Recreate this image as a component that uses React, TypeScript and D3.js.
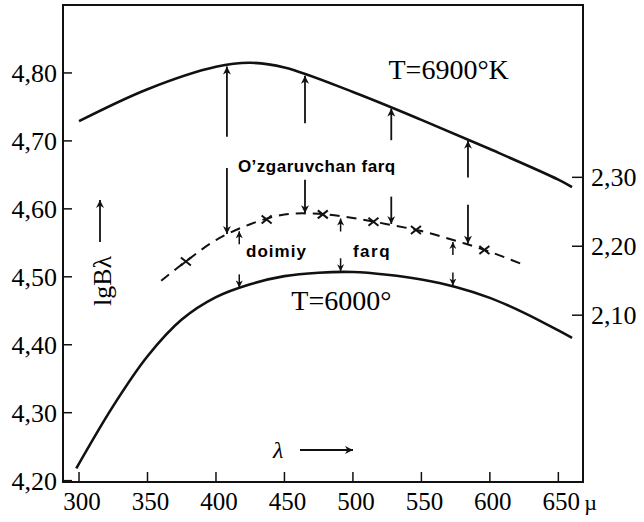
import React, { useEffect, useRef } from "react";
import * as d3 from "d3";

// values: wavelength in µ, lg B on the left axis
const hotLambda = [300, 350, 400, 425, 450, 500, 550, 600, 650, 660];
const hotLogB = [4.729, 4.776, 4.809, 4.815, 4.808, 4.772, 4.731, 4.688, 4.643, 4.632];

const coolLambda = [298, 325, 350, 375, 400, 425, 450, 475, 500, 525, 550, 575, 600, 625, 650, 660];
const coolLogB = [4.218, 4.31, 4.383, 4.437, 4.47, 4.489, 4.501, 4.506, 4.507, 4.503, 4.496, 4.485, 4.469, 4.447, 4.421, 4.41];

// dashed curve, measured against the right-hand axis
const ratioLambda = [360, 380, 400, 425, 450, 475, 500, 525, 550, 575, 600, 626];
const ratioValue = [2.15, 2.181, 2.209, 2.232, 2.246, 2.247, 2.241, 2.232, 2.222, 2.208, 2.192, 2.172];
const crossLambda = [378, 437, 478, 515, 546, 596];

// "O'zgaruvchan farq" arrows (tails in lg B units), "doimiy farq" arrows
const variableLambda = [408, 465, 528, 584];
const variableUpTail = [4.706, 4.726, 4.701, 4.646];
const variableDownTail = [4.66, 4.643, 4.618, 4.606];
const constantLambda = [417, 491, 573];

const xTicks = [300, 350, 400, 450, 500, 550, 600, 650];
const yTicks = [4.2, 4.3, 4.4, 4.5, 4.6, 4.7, 4.8];
const rightTicks = [2.1, 2.2, 2.3];

const fmt = (v: number) => v.toFixed(2).replace(".", ",");

const App = () => {
  const svgRef = useRef<SVGSVGElement>(null);

  useEffect(() => {
    if (!svgRef.current) return;
    const svg = d3.select(svgRef.current);
    svg.selectAll("*").remove();

    const left = 63;
    const right = 583;
    const top = 5;
    const bottom = 482;
    const serif = "'Liberation Serif', 'Times New Roman', serif";
    const sans = "'Liberation Sans', Arial, sans-serif";

    const x = d3.scaleLinear().domain([288.3, 668]).range([left, right]);
    const y = d3.scaleLinear().domain([4.198, 4.9]).range([bottom, top]);
    const yR = d3.scaleLinear().domain([1.858, 2.55]).range([bottom, top]);

    const hotAt = d3.scaleLinear().domain(hotLambda).range(hotLogB);
    const coolAt = d3.scaleLinear().domain(coolLambda).range(coolLogB);
    const ratioAt = d3.scaleLinear().domain(ratioLambda).range(ratioValue);

    const defs = svg.append("defs");
    const marker = (id: string, w: number, h: number) =>
      defs
        .append("marker")
        .attr("id", id)
        .attr("viewBox", "0 0 10 10")
        .attr("refX", 10)
        .attr("refY", 5)
        .attr("markerUnits", "userSpaceOnUse")
        .attr("markerWidth", w)
        .attr("markerHeight", h)
        .attr("orient", "auto")
        .append("path")
        .attr("d", "M0,0 L10,5 L0,10 L3,5 Z")
        .attr("fill", "#111");
    marker("head", 12, 8);
    marker("small", 8, 7);

    svg.append("rect").attr("width", 644).attr("height", 522).attr("fill", "#fff");

    // frame
    svg
      .append("rect")
      .attr("x", left)
      .attr("y", top)
      .attr("width", right - left)
      .attr("height", bottom - top)
      .attr("fill", "none")
      .attr("stroke", "#111")
      .attr("stroke-width", 2);

    // ticks + labels
    svg
      .append("g")
      .selectAll("line")
      .data(yTicks)
      .enter()
      .append("line")
      .attr("x1", left)
      .attr("x2", left + 9)
      .attr("y1", (d) => y(d))
      .attr("y2", (d) => y(d))
      .attr("stroke", "#111")
      .attr("stroke-width", 1.5);
    svg
      .append("g")
      .selectAll("text")
      .data(yTicks)
      .enter()
      .append("text")
      .attr("x", left - 6)
      .attr("y", (d) => y(d))
      .attr("dy", "0.35em")
      .attr("text-anchor", "end")
      .style("font-family", serif)
      .style("font-size", "26px")
      .text((d) => fmt(d));

    svg
      .append("g")
      .selectAll("line")
      .data(xTicks)
      .enter()
      .append("line")
      .attr("x1", (d) => x(d))
      .attr("x2", (d) => x(d))
      .attr("y1", bottom)
      .attr("y2", bottom - 10)
      .attr("stroke", "#111")
      .attr("stroke-width", 1.5);
    svg
      .append("g")
      .selectAll("text")
      .data(xTicks)
      .enter()
      .append("text")
      .attr("x", (d) => x(d) + 3)
      .attr("y", 510)
      .attr("text-anchor", "middle")
      .style("font-family", serif)
      .style("font-size", "25px")
      .text((d) => String(d));
    svg
      .append("text")
      .attr("x", x(650) + 26)
      .attr("y", 510)
      .style("font-family", serif)
      .style("font-size", "22px")
      .text("µ");

    svg
      .append("g")
      .selectAll("line")
      .data(rightTicks)
      .enter()
      .append("line")
      .attr("x1", right)
      .attr("x2", right - 11)
      .attr("y1", (d) => yR(d))
      .attr("y2", (d) => yR(d))
      .attr("stroke", "#111")
      .attr("stroke-width", 1.5);
    svg
      .append("g")
      .selectAll("text")
      .data(rightTicks)
      .enter()
      .append("text")
      .attr("x", right + 8)
      .attr("y", (d) => yR(d))
      .attr("dy", "0.35em")
      .style("font-family", serif)
      .style("font-size", "26px")
      .text((d) => fmt(d));

    // curves
    const path = (xs: number[], ys: number[]) =>
      d3
        .line<number>()
        .x((_, i) => x(xs[i]))
        .y((d) => d)
        .curve(d3.curveCatmullRom.alpha(0.5))(ys);

    svg
      .append("path")
      .attr("d", path(hotLambda, hotLogB.map((v) => y(v))))
      .attr("fill", "none")
      .attr("stroke", "#111")
      .attr("stroke-width", 2.6);
    svg
      .append("path")
      .attr("d", path(coolLambda, coolLogB.map((v) => y(v))))
      .attr("fill", "none")
      .attr("stroke", "#111")
      .attr("stroke-width", 2.6);
    svg
      .append("path")
      .attr("d", path(ratioLambda, ratioValue.map((v) => yR(v))))
      .attr("fill", "none")
      .attr("stroke", "#111")
      .attr("stroke-width", 2)
      .attr("stroke-dasharray", "10,7");

    // × marks on the dashed curve
    const cross = svg.append("g").attr("stroke", "#111").attr("stroke-width", 2);
    crossLambda.forEach((l) => {
      const cx = x(l);
      const cy = yR(ratioAt(l));
      cross.append("line").attr("x1", cx - 5).attr("x2", cx + 5).attr("y1", cy - 4).attr("y2", cy + 4);
      cross.append("line").attr("x1", cx - 5).attr("x2", cx + 5).attr("y1", cy + 4).attr("y2", cy - 4);
    });

    // arrows
    const arrow = (x1: number, y1: number, x2: number, y2: number, head: string, w: number) =>
      svg
        .append("line")
        .attr("x1", x1)
        .attr("y1", y1)
        .attr("x2", x2)
        .attr("y2", y2)
        .attr("stroke", "#111")
        .attr("stroke-width", w)
        .attr("marker-end", `url(#${head})`);

    variableLambda.forEach((l, i) => {
      const ax = x(l);
      arrow(ax, y(variableUpTail[i]), ax, y(hotAt(l)) + 1, "head", 1.8);
      arrow(ax, y(variableDownTail[i]), ax, yR(ratioAt(l)) - 1, "head", 1.8);
    });
    constantLambda.forEach((l) => {
      const ax = x(l);
      const ry = yR(ratioAt(l));
      const cy = y(coolAt(l));
      arrow(ax, ry + 15, ax, ry + 2, "small", 1.5);
      arrow(ax, cy - 14, ax, cy - 1, "small", 1.5);
    });

    // annotations
    svg
      .append("text")
      .attr("x", x(526))
      .attr("y", 79)
      .style("font-family", serif)
      .style("font-size", "28px")
      .text("T=6900°K");
    svg
      .append("text")
      .attr("x", x(455))
      .attr("y", 310)
      .style("font-family", serif)
      .style("font-size", "28px")
      .text("T=6000°");
    svg
      .append("text")
      .attr("x", x(416))
      .attr("y", 172)
      .style("font-family", sans)
      .style("font-weight", "bold")
      .style("font-size", "17px")
      .style("letter-spacing", "0.5px")
      .text("O’zgaruvchan farq");
    svg
      .append("text")
      .attr("x", x(422))
      .attr("y", 257)
      .style("font-family", sans)
      .style("font-weight", "bold")
      .style("font-size", "17px")
      .style("letter-spacing", "1px")
      .text("doimiy");
    svg
      .append("text")
      .attr("x", x(500))
      .attr("y", 257)
      .style("font-family", sans)
      .style("font-weight", "bold")
      .style("font-size", "17px")
      .style("letter-spacing", "1.5px")
      .text("farq");

    // axis titles
    svg
      .append("text")
      .attr("transform", "translate(111,281) rotate(-90)")
      .attr("text-anchor", "middle")
      .style("font-family", serif)
      .style("font-size", "26px")
      .text("lgBλ");
    arrow(100, 242, 100, 200, "head", 1.8);
    svg
      .append("text")
      .attr("x", 273)
      .attr("y", 458)
      .style("font-family", serif)
      .style("font-style", "italic")
      .style("font-size", "24px")
      .text("λ");
    arrow(300, 450, 353, 450, "head", 1.8);
  }, []);

  return (
    <>
      <style>{"body{margin:0}"}</style>
      <svg ref={svgRef} width={644} height={522} style={{ display: "block" }} />
    </>
  );
};

export default App;
